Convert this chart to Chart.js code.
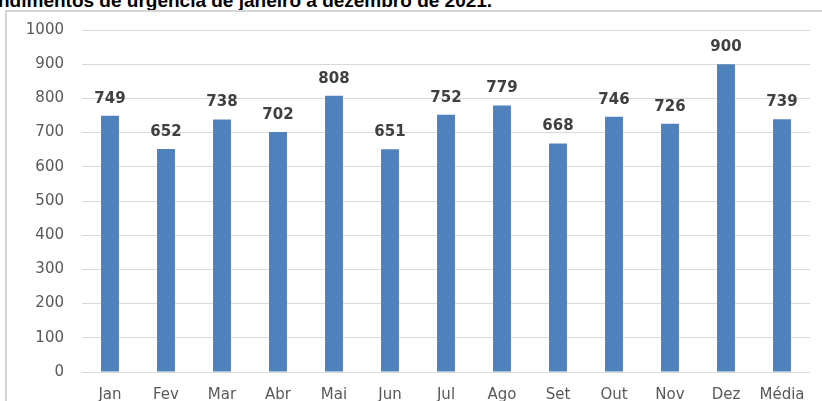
<!DOCTYPE html>
<html><head><meta charset="utf-8">
<script src="https://cdn.jsdelivr.net/npm/chart.js@4/dist/chart.umd.min.js"></script>
<style>
html,body{margin:0;padding:0;background:#fff;width:822px;height:401px;overflow:hidden;position:relative;}
#title{position:absolute;left:-2px;top:-8px;font:bold 19px "Liberation Sans",Arial,sans-serif;color:#000;white-space:nowrap;line-height:18px;}
#box{position:absolute;left:5px;top:10px;width:830px;height:400px;border:2px solid #d6d6d6;box-sizing:border-box;}
#wrap{position:absolute;left:7px;top:11px;width:815px;height:390px;}
</style></head>
<body>
<div id="title">ndimentos de urgência de janeiro a dezembro de 2021.</div>
<div id="box"></div>
<div id="wrap"><canvas id="c" width="815" height="390"></canvas></div>
<script>
const categories = ["Jan","Fev","Mar","Abr","Mai","Jun","Jul","Ago","Set","Out","Nov","Dez","Média"];
const values = [749,652,738,702,808,651,752,779,668,746,726,900,739];
const yTicks = [0,100,200,300,400,500,600,700,800,900,1000];

const labelPlugin = {
  id:'vals',
  afterDatasetsDraw(chart){
    const ctx = chart.ctx;
    const meta = chart.getDatasetMeta(0);
    ctx.save();
    ctx.font = 'bold 15px "DejaVu Sans"';
    ctx.fillStyle = '#404040';
    ctx.textAlign = 'center';
    ctx.textBaseline = 'middle';
    meta.data.forEach((bar,i)=>{
      ctx.fillText(String(values[i]), bar.x, bar.y - 17);
    });
    ctx.restore();
  }
};

new Chart(document.getElementById('c'),{
  type:'bar',
  data:{labels:categories,datasets:[{data:values,backgroundColor:'#4F81BD',barPercentage:0.32,categoryPercentage:1}]},
  options:{
    responsive:false,animation:false,
    layout:{padding:{left:0,right:12,top:19,bottom:0}},
    plugins:{legend:{display:false},tooltip:{enabled:false},title:{display:false}},
    scales:{
      x:{
        grid:{display:false,drawTicks:false},
        border:{display:false},
        ticks:{color:'#595959',font:{family:'DejaVu Sans',size:15},padding:14,maxRotation:0,autoSkip:false},
        afterFit(s){s.height=29;s.paddingLeft=0;s.paddingRight=0;}
      },
      y:{
        min:0,max:1000,
        afterBuildTicks(s){s.ticks=yTicks.map(v=>({value:v}));},
        grid:{color:'#d9d9d9',lineWidth:1,drawTicks:false},
        border:{display:false},
        ticks:{color:'#595959',font:{family:'DejaVu Sans',size:15},padding:18,callback:(v)=>String(v)},
        afterFit(s){s.width=75;s.paddingTop=0;s.paddingBottom=0;}
      }
    }
  },
  plugins:[labelPlugin]
});
</script>
</body></html>
